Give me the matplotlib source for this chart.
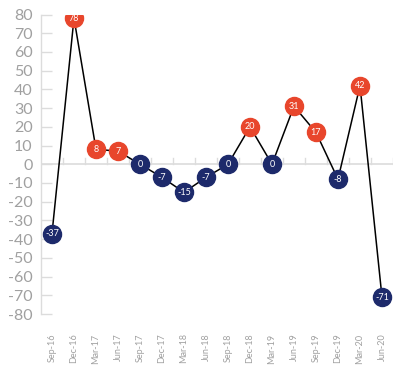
import matplotlib
matplotlib.use("Agg")
import matplotlib.pyplot as plt

categories = ["Sep-16", "Dec-16", "Mar-17", "Jun-17", "Sep-17", "Dec-17", "Mar-18", "Jun-18",
              "Sep-18", "Dec-18", "Mar-19", "Jun-19", "Sep-19", "Dec-19", "Mar-20", "Jun-20"]
values = [-37, 78, 8, 7, 0, -7, -15, -7, 0, 20, 0, 31, 17, -8, 42, -71]
yticks = list(range(-80, 81, 10))

ORANGE = "#e8462c"
NAVY = "#1d2a6b"
GRID = "#dcdcdc"
TXT = "#a0a0a0"

plt.rcParams['font.family'] = ['Lato', 'DejaVu Sans']

fig = plt.figure(figsize=(4.11, 3.71), dpi=100)
ax = fig.add_axes([41/411, 1-314/371, (393-41)/411, (314-14.5)/371])

x = list(range(len(values)))
ax.plot(x, values, color="black", lw=1.1, zorder=2)
for xi, v in zip(x, values):
    c = ORANGE if v > 0 else NAVY
    ax.plot(xi, v, 'o', ms=13, color=c, mec=c, zorder=3)
    ax.text(xi, v, str(v), color="white", fontsize=6.5, ha="center", va="center", zorder=4)

# zero line with category boundary ticks
ax.axhline(0, color=GRID, lw=1.2, zorder=1)
for b in range(1, len(values)+1):
    ax.plot([b-0.5, b-0.5], [0, 3.5], color=GRID, lw=1.0, zorder=1)

ax.set_xlim(-0.5, len(values)-0.5)
ax.set_ylim(-80, 80)
ax.set_yticks(yticks)
ax.set_yticklabels([str(t) for t in yticks], fontsize=11.5, color=TXT)
ax.tick_params(axis='y', direction='in', length=8, width=1, color=GRID, pad=6)
ax.set_xticks(x)
ax.set_xticklabels(categories, rotation=90, fontsize=6.5, color=TXT, va='top')
ax.tick_params(axis='x', length=0, pad=14)

for s in ["top", "right", "bottom"]:
    ax.spines[s].set_visible(False)
ax.spines["left"].set_color(GRID)
ax.spines["left"].set_linewidth(1)

fig.savefig("out.png", dpi=100)
